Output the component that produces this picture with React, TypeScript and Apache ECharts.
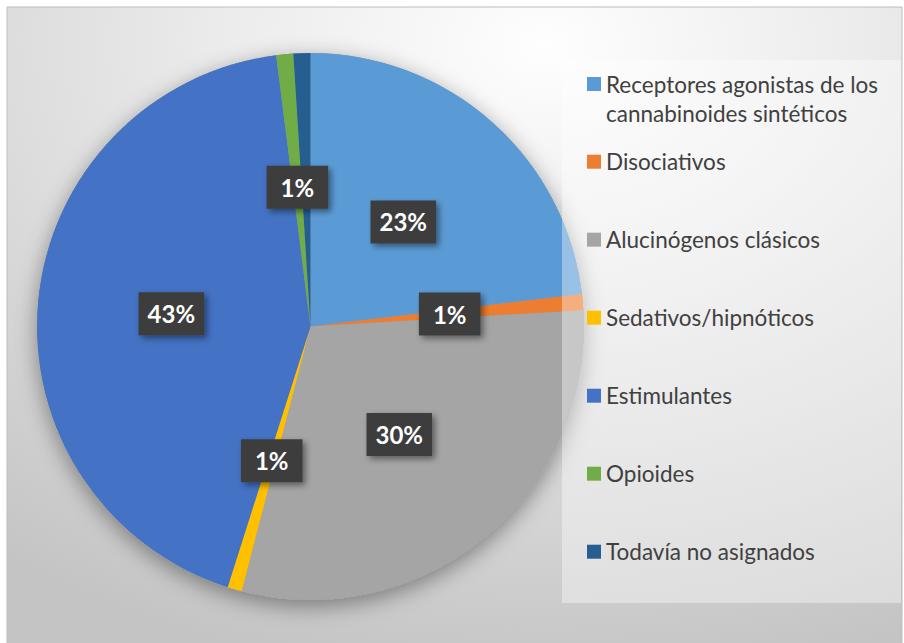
import React, { useEffect, useRef } from 'react';
import * as echarts from 'echarts';

const categories = [
  'Receptores agonistas de los cannabinoides sintéticos',
  'Disociativos',
  'Alucinógenos clásicos',
  'Sedativos/hipnóticos',
  'Estimulantes',
  'Opioides',
  'Todavía no asignados',
];
const legendLabels = [
  '\u00a0\nReceptores agonistas de los\ncannabinoides sintéticos',
  'Disociativos',
  'Alucinógenos clásicos',
  'Sedativos/hipnóticos',
  'Estimulantes',
  'Opioides',
  'Todavía no asignados',
];
const values = [23.1, 0.95, 30.0, 0.85, 43.1, 1.0, 1.0];
const colors = ['#5B9BD5', '#ED7D31', '#A5A5A5', '#FFC000', '#4472C4', '#70AD47', '#255E91'];

export default function App() {
  const ref = useRef<HTMLDivElement>(null);
  useEffect(() => {
    if (!ref.current) return;
    const chart = echarts.init(ref.current, null, { renderer: 'svg' });
    const fmt = (name: string) => legendLabels[categories.indexOf(name)] ?? name;
    const legendText = {
      color: '#404040',
      fontFamily: 'Lato',
      fontSize: 22.5,
      lineHeight: 29,
    };
    const option: any = {
      animation: false,
      graphic: [
        {
          type: 'rect',
          z: -10,
          silent: true,
          shape: { x: 7, y: 7, width: 895, height: 640 },
          style: {
            fill: new echarts.graphic.RadialGradient(0.6, 0.06, 1.0, [
              { offset: 0, color: '#fefefe' },
              { offset: 0.35, color: '#ececec' },
              { offset: 1, color: '#c4c4c4' },
            ]),
            stroke: '#bdbdbd',
            lineWidth: 1,
          },
        },
        {
          type: 'rect',
          z: 3,
          silent: true,
          shape: { x: 562, y: 60, width: 339, height: 543 },
          style: { fill: 'rgba(255,255,255,0.38)' },
        },
      ],
      legend: [
        {
          orient: 'vertical',
          left: 587,
          top: 40.5,
          padding: 0,
          itemWidth: 14,
          itemHeight: 14,
          itemGap: 49,
          icon: 'rect',
          selectedMode: false,
          data: categories.slice(0, 1),
          formatter: fmt,
          textStyle: legendText,
        },
        {
          orient: 'vertical',
          left: 587,
          top: 147.2,
          padding: 0,
          itemWidth: 14,
          itemHeight: 14,
          itemGap: 49,
          icon: 'rect',
          selectedMode: false,
          data: categories.slice(1),
          formatter: fmt,
          textStyle: legendText,
        },
      ],
      series: [
        {
          type: 'pie',
          silent: true,
          z: 1,
          center: [310.5, 326.5],
          radius: 273.5,
          legendHoverLink: false,
          data: [{ value: 1, name: '__shadow' }],
          itemStyle: {
            color: '#9a9a9a',
            shadowBlur: 22,
            shadowOffsetY: 6,
            shadowColor: 'rgba(0,0,0,0.4)',
          },
          label: { show: false },
          labelLine: { show: false },
        },
        {
          type: 'pie',
          z: 2,
          center: [310.5, 326.5],
          radius: 273.5,
          startAngle: 90,
          clockwise: true,
          percentPrecision: 0,
          avoidLabelOverlap: false,
          labelLayout: { hideOverlap: true },
          data: categories.map((name, i) => ({
            name,
            value: values[i],
            itemStyle: { color: colors[i] },
            label: { padding: values[i] >= 10 ? [9, 9, 8, 9] : [9, 14, 8, 14] },
          })),
          label: {
            show: true,
            position: 'inside',
            formatter: '{d}%',
            color: '#ffffff',
            fontFamily: 'Lato',
            fontWeight: 'bold',
            fontSize: 24,
            lineHeight: 26,
            backgroundColor: '#3e3e3e',
            shadowColor: 'rgba(0,0,0,0.45)',
            shadowBlur: 6,
            shadowOffsetX: 3,
            shadowOffsetY: 3,
          },
          labelLine: { show: false },
          emphasis: { disabled: true },
        },
      ],
    };
    chart.setOption(option);
    return () => chart.dispose();
  }, []);
  return (
    <div
      ref={ref}
      style={{ position: 'absolute', left: 0, top: 0, width: 904, height: 643 }}
    />
  );
}
